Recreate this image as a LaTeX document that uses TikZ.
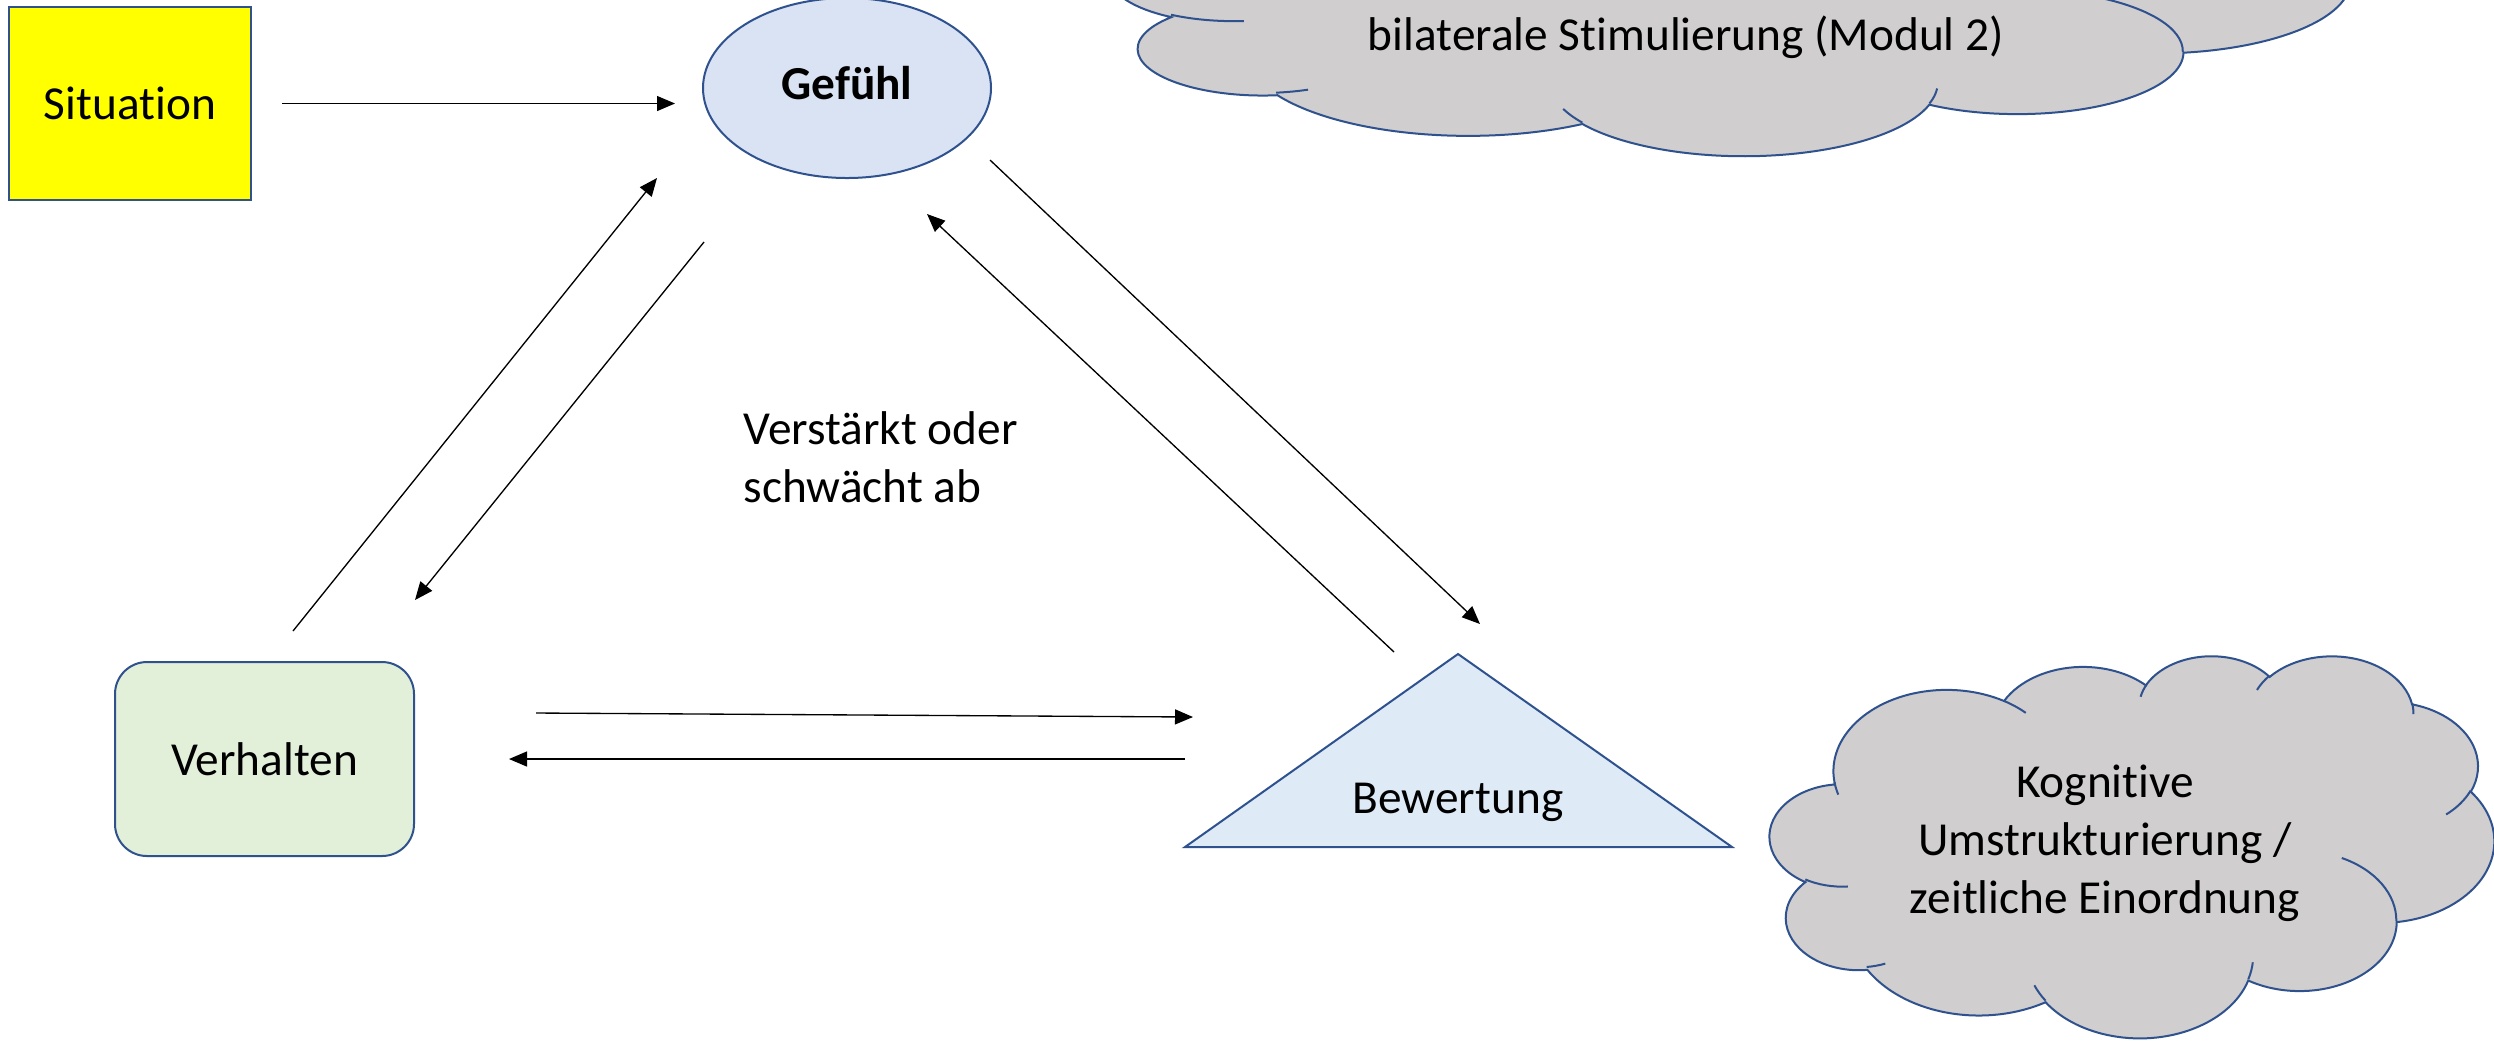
\documentclass[tikz,border=0pt]{standalone}
\usepackage{fontspec}
\setmainfont{Carlito}[Ligatures={NoCommon}]
\usetikzlibrary{arrows.meta,shapes.geometric}
\definecolor{bord}{HTML}{2F528F}
\definecolor{sityellow}{RGB}{255,255,0}
\definecolor{gefuehlfill}{HTML}{DAE3F3}
\definecolor{bewfill}{HTML}{DEEBF7}
\definecolor{verhfill}{HTML}{E2F0D9}
\definecolor{cloudfill}{HTML}{D0CECE}

% OOXML cloud: convert visual arc angles to parametric angles
\newcommand\cloudcalc[5]{%
  \pgfmathsetmacro\oocA{atan2((#2)*sin(#4),(#3)*cos(#4))}%
  \pgfmathsetmacro\oocB{atan2((#2)*sin((#4)+(#5)),(#3)*cos((#4)+(#5)))}%
  \pgfmathsetmacro\oocD{\oocB-\oocA}%
  \pgfmathsetmacro\oocD{ifthenelse(\oocD<0,\oocD+360,\oocD)}%
  \expandafter\xdef\csname cts#1\endcsname{\oocA}%
  \expandafter\xdef\csname cdl#1\endcsname{\oocD}%
}
\cloudcalc{A}{67.53}{91.90}{-190.4875}{123.7805}
\cloudcalc{B}{53.33}{72.67}{-144.1024}{89.9452}
\cloudcalc{C}{43.65}{59.45}{-145.8079}{99.7230}
\cloudcalc{D}{48.57}{65.95}{-130.9861}{117.2417}
\cloudcalc{E}{53.33}{72.73}{-78.7089}{109.0269}
\cloudcalc{F}{67.75}{92.20}{-46.2673}{130.2690}
\cloudcalc{G}{57.85}{78.67}{0.6250}{114.0333}
\cloudcalc{H}{67.52}{92.15}{22.4516}{115.1726}
\cloudcalc{I}{77.20}{105.43}{66.2426}{74.7600}
\cloudcalc{J}{43.60}{59.18}{-274.9421}{146.7356}
\cloudcalc{K}{43.45}{59.45}{-246.8285}{152.5189}
\cloudcalc{a}{43.45}{59.45}{86.7420}{26.4295}
\cloudcalc{b}{43.60}{59.18}{73.6105}{11.4475}
\cloudcalc{c}{67.52}{92.15}{137.6242}{14.0811}
\cloudcalc{d}{67.52}{92.15}{6.4533}{15.9984}
\cloudcalc{e}{57.85}{78.67}{-70.2924}{70.9174}
\cloudcalc{f}{53.33}{72.73}{30.3180}{27.7515}
\cloudcalc{g}{48.57}{65.95}{-13.7443}{14.8589}
\cloudcalc{h}{48.57}{65.95}{-149.1815}{18.1954}
\cloudcalc{i}{43.65}{59.45}{-163.4943}{17.6864}
\cloudcalc{j}{67.53}{91.90}{-66.7070}{12.3194}
\cloudcalc{k}{67.53}{91.90}{157.6544}{11.8582}

\newcommand\drawcloud[4]{%
  \pgfmathsetmacro\cldx{#3*0.3/432}%
  \pgfmathsetmacro\cldy{#4*0.3/432}%
  \begin{scope}[shift={(#1,#2)}, x=\cldx pt, y=-\cldy pt]
    \filldraw[cloudstyle] (39.00,143.70)
      arc[start angle=\ctsA, delta angle=\cdlA, x radius=67.53, y radius=91.90]
      arc[start angle=\ctsB, delta angle=\cdlB, x radius=53.33, y radius=72.67]
      arc[start angle=\ctsC, delta angle=\cdlC, x radius=43.65, y radius=59.45]
      arc[start angle=\ctsD, delta angle=\cdlD, x radius=48.57, y radius=65.95]
      arc[start angle=\ctsE, delta angle=\cdlE, x radius=53.33, y radius=72.73]
      arc[start angle=\ctsF, delta angle=\cdlF, x radius=67.75, y radius=92.20]
      arc[start angle=\ctsG, delta angle=\cdlG, x radius=57.85, y radius=78.67]
      arc[start angle=\ctsH, delta angle=\cdlH, x radius=67.52, y radius=92.15]
      arc[start angle=\ctsI, delta angle=\cdlI, x radius=77.20, y radius=105.43]
      arc[start angle=\ctsJ, delta angle=\cdlJ, x radius=43.60, y radius=59.18]
      arc[start angle=\ctsK, delta angle=\cdlK, x radius=43.45, y radius=59.45]
      -- cycle;
    \draw[cloudline]
      (46.93,261.77) arc[start angle=\ctsa, delta angle=\cdla, x radius=43.45, y radius=59.45]
      (69.28,348.99) arc[start angle=\ctsb, delta angle=\cdlb, x radius=43.60, y radius=59.18]
      (164.78,390.90) arc[start angle=\ctsc, delta angle=\cdlc, x radius=67.52, y radius=92.15]
      (288.27,347.51) arc[start angle=\ctsd, delta angle=\cdld, x radius=67.52, y radius=92.15]
      (341.29,229.54) arc[start angle=\ctse, delta angle=\cdle, x radius=57.85, y radius=78.67]
      (417.98,153.54) arc[start angle=\ctsf, delta angle=\cdlf, x radius=53.33, y radius=72.73]
      (383.24,54.26) arc[start angle=\ctsg, delta angle=\cdlg, x radius=48.57, y radius=65.95]
      (290.78,39.52) arc[start angle=\ctsh, delta angle=\cdlh, x radius=48.57, y radius=65.95]
      (221.41,47.20) arc[start angle=\ctsi, delta angle=\cdli, x radius=43.65, y radius=59.45]
      (140.00,51.92) arc[start angle=\ctsj, delta angle=\cdlj, x radius=67.53, y radius=91.90]
      (41.27,157.89) arc[start angle=\ctsk, delta angle=\cdlk, x radius=67.53, y radius=91.90];
  \end{scope}}

\begin{document}
\begin{tikzpicture}[x=0.3pt, y=-0.3pt,
  every node/.style={font=\fontsize{14.2pt}{17.4pt}\selectfont, inner sep=0pt},
  arr/.style={line width=0.4pt, -{Triangle[length=5.4pt,width=4.5pt]}},
  shp/.style={draw=bord, line width=0.6pt},
  cloudstyle/.style={draw=bord, line width=0.6pt, fill=cloudfill},
  cloudline/.style={draw=bord, line width=0.6pt}]
\useasboundingbox (0,0) rectangle (2494,1041);
\fill[white] (0,0) rectangle (2494,1041);
\clip (0,0) rectangle (2494,1041);

% clouds
\drawcloud{1109}{-185}{1241}{340}
\drawcloud{1769}{655}{725}{382}
\node (bil) [anchor=base] at (1686,50) {bilaterale Stimulierung (Modul 2)};
\node (kog) [align=center] at (2105,843) {Kognitive\\Umstrukturierung /\\zeitliche Einordnung};

% main shapes
\node[shp, fill=sityellow, minimum width=72.6pt, minimum height=57.9pt] (sit) at (130,103.5) {Situation};
\node[shp, ellipse, fill=gefuehlfill, minimum width=86.4pt, minimum height=54pt, text depth=3pt] (gef) at (847,88) {\bfseries Gefühl};
\node[shp, fill=verhfill, rounded corners=9.6pt, minimum width=89.7pt, minimum height=58.2pt] (verh) at (264.5,759) {Verhalten};
\coordinate (bewT) at (1458,654);
\coordinate (bewL) at (1185,847);
\coordinate (bewR) at (1732,847);
\filldraw[shp, fill=bewfill, line join=miter] (bewT) -- (bewL) -- (bewR) -- cycle;
\node (bew) [anchor=base] at (1458,813) {Bewertung};

\node (txt) [align=left, anchor=west] at (743,457) {Verstärkt oder\\schwächt ab};

% connectors
\coordinate (p1a) at (293,631);  \coordinate (p1b) at (657,178);
\coordinate (p2a) at (704,242);  \coordinate (p2b) at (415,600);
\coordinate (p3a) at (1394,652); \coordinate (p3b) at (927,214);
\coordinate (p4a) at (990,160);  \coordinate (p4b) at (1480,624);
\coordinate (p5a) at (536,713);  \coordinate (p5b) at (1193,717);
\coordinate (p6a) at (1185,759); \coordinate (p6b) at (509,759);

\draw[arr, shorten <=9pt, shorten >=8.1pt] (sit.east) -- (sit.east -| gef.west);
\draw[arr] (p1a) -- (p1b);
\draw[arr] (p2a) -- (p2b);
\draw[arr] (p3a) -- (p3b);
\draw[arr] (p4a) -- (p4b);
\draw[arr] (p5a) -- (p5b);
\draw[arr] (p6a) -- (p6b);
\end{tikzpicture}
\end{document}
